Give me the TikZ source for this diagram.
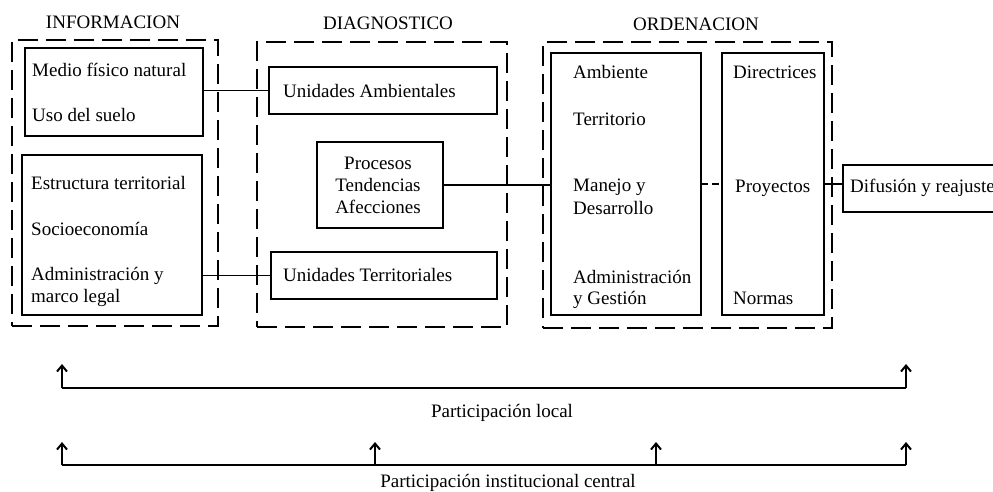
\documentclass[tikz,border=0pt]{standalone}
\usepackage{fontspec}
\setmainfont{Liberation Serif}
\usetikzlibrary{arrows.meta}
\tikzset{
  obox/.style={draw, line width=2.5pt, dash pattern=on 20pt off 8pt, anchor=north west, inner sep=0pt, outer sep=0pt},
  ibox/.style={draw, line width=1.2pt, anchor=north west, inner sep=0pt, outer sep=0pt},
  txt/.style={anchor=west, inner sep=0pt, font=\fontsize{19}{21}\selectfont, text height=12pt, text depth=0pt},
  ctxt/.style={anchor=center, inner sep=0pt, font=\fontsize{19}{21}\selectfont, text height=12pt, text depth=0pt},
  conn/.style={line width=1.2pt},
  dconn/.style={line width=1.2pt, dash pattern=on 7pt off 4pt},
  base/.style={line width=1.5pt},
  uparrow/.style={line width=2pt, -{Straight Barb[length=6pt,width=10pt]}}
}
\begin{document}
\begin{tikzpicture}[x=1pt, y=-1pt]
\clip (0,0) rectangle (993,492);
\fill[white] (0,0) rectangle (993,492);

% titles
\node[ctxt] (tinfo) at (113,23) {INFORMACION};
\node[ctxt] (tdiag) at (388,24) {DIAGNOSTICO};
\node[ctxt] (tord) at (696,25) {ORDENACION};

% outer dashed boxes
\node[obox, minimum width=206pt, minimum height=286pt] (infoO) at (12,40) {};
\node[obox, minimum width=250pt, minimum height=285pt] (diagO) at (257,42) {};
\node[obox, minimum width=289pt, minimum height=286pt] (ordO) at (543,42) {};

% INFORMACION inner boxes
\node[ibox, minimum width=178pt, minimum height=88pt] (info1) at (25,48) {};
\node[ibox, minimum width=180pt, minimum height=160pt] (info2) at (22,155) {};
\node[txt] (t1) at (32,71) {Medio físico natural};
\node[txt] (t2) at (32,116) {Uso del suelo};
\node[txt] (t3) at (31,183) {Estructura territorial};
\node[txt] (t4) at (31,229) {Socioeconomía};
\node[txt] (t5) at (31,274) {Administración y};
\node[txt] (t6) at (31,296) {marco legal};

% DIAGNOSTICO inner boxes
\node[ibox, minimum width=228pt, minimum height=47pt] (ua) at (269,67) {};
\node[txt] (tua) at (283,92) {Unidades Ambientales};
\node[ibox, minimum width=126pt, minimum height=86pt] (proc) at (317,142) {};
\node[ctxt] (tp1) at (378,163) {Procesos};
\node[ctxt] (tp2) at (378,185) {Tendencias};
\node[ctxt] (tp3) at (378,207) {Afecciones};
\node[ibox, minimum width=226pt, minimum height=47pt] (ut) at (271,252) {};
\node[txt] (tut) at (283,275) {Unidades Territoriales};

% ORDENACION inner boxes
\node[ibox, minimum width=150pt, minimum height=262pt] (amb) at (551,53) {};
\node[txt] (o1) at (573,73) {Ambiente};
\node[txt] (o2) at (573,119) {Territorio};
\node[txt] (o3) at (573,185) {Manejo y};
\node[txt] (o4) at (573,208) {Desarrollo};
\node[txt] (o5) at (573,277) {Administración};
\node[txt] (o6) at (573,298) {y Gestión};
\node[ibox, minimum width=102pt, minimum height=262pt] (dir) at (722,53) {};
\node[txt] (d1) at (733,73) {Directrices};
\node[txt] (d2) at (735,186) {Proyectos};
\node[txt] (d3) at (733,298) {Normas};

% Difusion
\node[ibox, minimum width=170pt, minimum height=47pt] (dif) at (843,165) {};
\node[txt] (tdif) at (850,186) {Difusión y reajuste};

% connectors
\draw[conn] (info1.east |- ua.west) -- (ua.west);
\draw[conn] (info2.east |- ut.west) -- (ut.west);
\draw[conn] (proc.east) -- (proc.east -| amb.west);
\draw[dconn] (amb.east |- dir.west) -- (dir.west);
\draw[conn] (dir.east) -- (dir.east -| dif.west);

% participation lines
\coordinate (La) at (62,388);
\coordinate (Lb) at (906,388);
\coordinate (Lat) at (62,364);
\coordinate (Lbt) at (906,364);
\draw[base] (La) -- (Lb);
\draw[uparrow] (La) -- (Lat);
\draw[uparrow] (Lb) -- (Lbt);
\node[ctxt] (plocal) at (502,411) {Participación local};

\coordinate (Ca) at (62,465);
\coordinate (Cb) at (375,465);
\coordinate (Cc) at (656,465);
\coordinate (Cd) at (906,465);
\coordinate (Cat) at (62,442);
\coordinate (Cbt) at (375,442);
\coordinate (Cct) at (656,442);
\coordinate (Cdt) at (906,442);
\draw[base] (Ca) -- (Cd);
\draw[uparrow] (Ca) -- (Cat);
\draw[uparrow] (Cb) -- (Cbt);
\draw[uparrow] (Cc) -- (Cct);
\draw[uparrow] (Cd) -- (Cdt);
\node[ctxt] (pcentral) at (508,481) {Participación institucional central};
\end{tikzpicture}
\end{document}
